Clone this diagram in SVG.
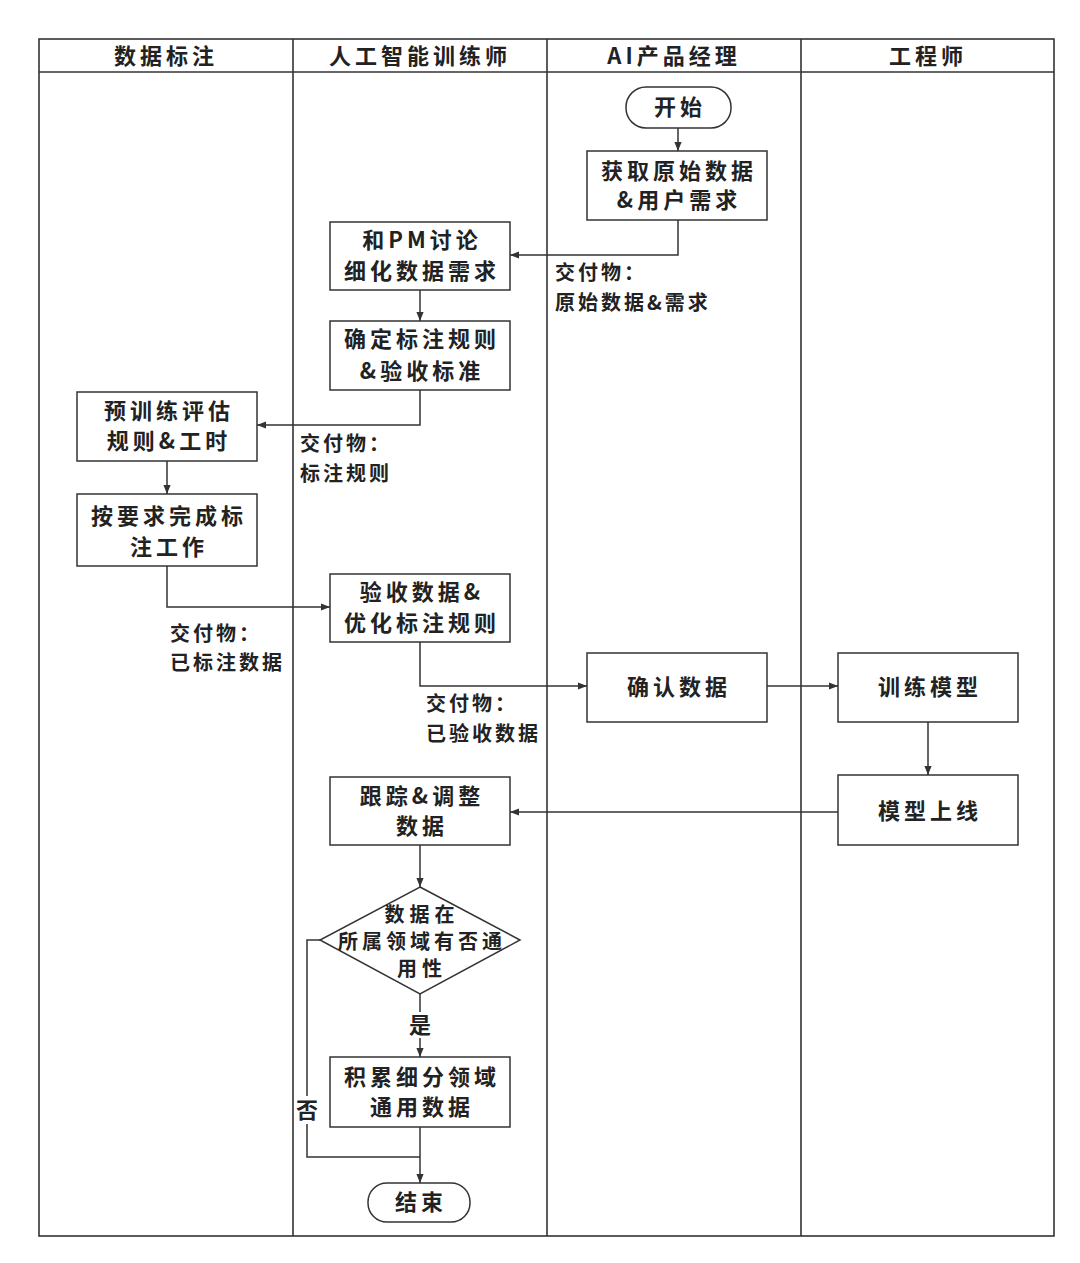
<svg xmlns="http://www.w3.org/2000/svg" width="1080" height="1263" viewBox="0 0 1080 1263">
<style>
  .frame{fill:none;stroke:#333;stroke-width:1.6}
  .box{fill:#fff;stroke:#333;stroke-width:1.5}
  .t{font-family:"Noto Sans CJK SC","Liberation Sans",sans-serif;font-weight:700;font-size:22px;fill:#222;text-anchor:middle;letter-spacing:4px}
  .d{font-family:"Noto Sans CJK SC","Liberation Sans",sans-serif;font-weight:700;font-size:20px;fill:#222;text-anchor:middle;letter-spacing:5px}
  .h{font-family:"Noto Sans CJK SC","Liberation Sans",sans-serif;font-weight:700;font-size:22px;fill:#222;text-anchor:middle;letter-spacing:4px}
  .lbl{font-family:"Noto Sans CJK SC","Liberation Sans",sans-serif;font-weight:700;font-size:20px;fill:#222;letter-spacing:3px}
  .c{fill:none;stroke:#333;stroke-width:1.5;marker-end:url(#arr)}
  .cn{fill:none;stroke:#333;stroke-width:1.5}
</style>
<defs>
  <marker id="arr" viewBox="0 0 10 10" refX="10" refY="5" markerWidth="10" markerHeight="9" markerUnits="userSpaceOnUse" orient="auto">
    <path d="M0,1 L10,5 L0,9 Z" fill="#333"/>
  </marker>
</defs>
<rect width="1080" height="1263" fill="#fff"/>
<g id="lanes">
  <rect class="frame" x="39" y="39" width="1015" height="1197"/>
  <line class="frame" x1="39" y1="72" x2="1054" y2="72"/>
  <line class="frame" x1="293" y1="39" x2="293" y2="1236"/>
  <line class="frame" x1="547" y1="39" x2="547" y2="1236"/>
  <line class="frame" x1="801" y1="39" x2="801" y2="1236"/>
  <text class="h" x="166" y="64">数据标注</text>
  <text class="h" x="420" y="64">人工智能训练师</text>
  <text class="h" x="674" y="64">AI产品经理</text>
  <text class="h" x="928" y="64">工程师</text>
</g>
<g id="connectors">
  <path class="c" d="M678,128 L678,151"/>
  <path class="c" d="M678,220 L678,255 L510,255"/>
  <path class="c" d="M420,290 L420,321"/>
  <path class="c" d="M420,390 L420,425 L257,425"/>
  <path class="c" d="M167,461 L167,494"/>
  <path class="c" d="M167,566 L167,607 L330,607"/>
  <path class="c" d="M420,642 L420,686 L587,686"/>
  <path class="c" d="M767,686 L838,686"/>
  <path class="c" d="M928,722 L928,775"/>
  <path class="c" d="M838,812 L510,812"/>
  <path class="c" d="M420,845 L420,887"/>
  <path class="c" d="M420,994 L420,1057"/>
  <path class="c" d="M420,1127 L420,1183"/>
  <path class="cn" d="M320,940 L307,940 L307,1157 L420,1157"/>
</g>
<g id="labels">
  <text class="lbl" x="555" y="280">交付物：</text>
  <text class="lbl" x="555" y="310">原始数据&amp;需求</text>
  <text class="lbl" x="300" y="451">交付物：</text>
  <text class="lbl" x="300" y="481">标注规则</text>
  <text class="lbl" x="170" y="641">交付物：</text>
  <text class="lbl" x="170" y="670">已标注数据</text>
  <text class="lbl" x="426" y="711">交付物：</text>
  <text class="lbl" x="426" y="741">已验收数据</text>
  <rect x="409" y="1012" width="22" height="26" fill="#fff"/>
  <text class="t" x="422" y="1033">是</text>
  <rect x="296" y="1096" width="22" height="28" fill="#fff"/>
  <text class="t" x="309" y="1118">否</text>
</g>
<g id="start">
  <rect class="box" x="626" y="87" width="105" height="41" rx="20"/>
  <text class="t" x="680" y="115">开始</text>
</g>
<g id="getdata">
  <rect class="box" x="587" y="151" width="180" height="69"/>
  <text class="t" x="679" y="179">获取原始数据</text>
  <text class="t" x="679" y="208">&amp;用户需求</text>
</g>
<g id="discuss">
  <rect class="box" x="330" y="222" width="180" height="68"/>
  <text class="t" x="422" y="248">和PM讨论</text>
  <text class="t" x="422" y="279">细化数据需求</text>
</g>
<g id="rules">
  <rect class="box" x="330" y="321" width="180" height="69"/>
  <text class="t" x="422" y="347">确定标注规则</text>
  <text class="t" x="422" y="379">&amp;验收标准</text>
</g>
<g id="pretrain">
  <rect class="box" x="77" y="392" width="180" height="69"/>
  <text class="t" x="169" y="419">预训练评估</text>
  <text class="t" x="169" y="449">规则&amp;工时</text>
</g>
<g id="label-work">
  <rect class="box" x="77" y="494" width="180" height="72"/>
  <text class="t" x="169" y="524">按要求完成标</text>
  <text class="t" x="169" y="555">注工作</text>
</g>
<g id="accept">
  <rect class="box" x="330" y="574" width="180" height="68"/>
  <text class="t" x="422" y="600">验收数据&amp;</text>
  <text class="t" x="422" y="631">优化标注规则</text>
</g>
<g id="confirm">
  <rect class="box" x="587" y="653" width="180" height="69"/>
  <text class="t" x="679" y="695">确认数据</text>
</g>
<g id="train">
  <rect class="box" x="838" y="653" width="180" height="69"/>
  <text class="t" x="930" y="695">训练模型</text>
</g>
<g id="deploy">
  <rect class="box" x="838" y="775" width="180" height="70"/>
  <text class="t" x="930" y="819">模型上线</text>
</g>
<g id="track">
  <rect class="box" x="330" y="777" width="180" height="68"/>
  <text class="t" x="422" y="804">跟踪&amp;调整</text>
  <text class="t" x="422" y="834">数据</text>
</g>
<g id="decision">
  <polygon class="box" points="420,887 520,940 420,994 320,940"/>
  <text class="d" x="422" y="922">数据在</text>
  <text class="d" x="422" y="949" style="letter-spacing:4px">所属领域有否通</text>
  <text class="d" x="422" y="976">用性</text>
</g>
<g id="accumulate">
  <rect class="box" x="330" y="1057" width="180" height="70"/>
  <text class="t" x="422" y="1085">积累细分领域</text>
  <text class="t" x="422" y="1115">通用数据</text>
</g>
<g id="end">
  <rect class="box" x="368" y="1183" width="102" height="39" rx="19"/>
  <text class="t" x="421" y="1210">结束</text>
</g>
</svg>
